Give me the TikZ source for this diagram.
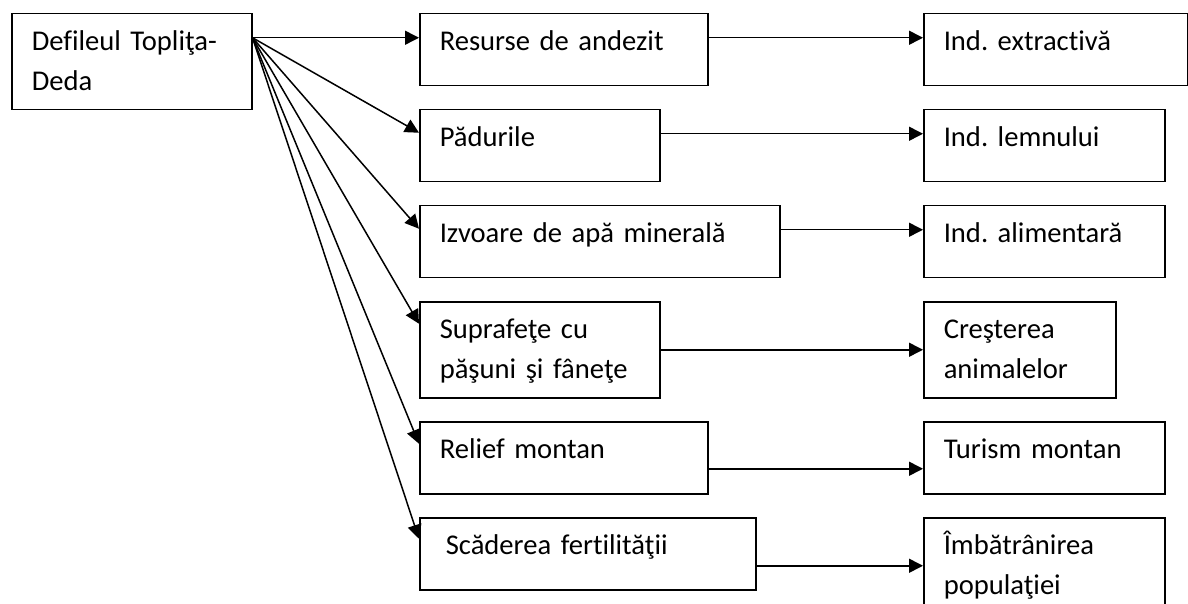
\documentclass[tikz,border=0pt]{standalone}
\usepackage{fontspec}
\setmainfont{Carlito}[Ligatures=NoCommon]
\usetikzlibrary{arrows.meta}
\tikzset{
	box/.style={draw, line width=0.75pt, anchor=north west, inner xsep=10pt, inner ysep=0pt, align=left, text height=18.5pt, text depth=17.5pt, font=\fontsize{14.3pt}{20pt}\selectfont\frenchspacing},
	tallbox/.style={box, text depth=29.5pt},
	arr/.style={line width=0.75pt, -{Triangle[length=7pt,width=7pt]}}
}

\begin{document}
\begin{tikzpicture}[x=0.5pt, y=-0.5pt]
		%%%%% START %%%%%
		
		\useasboundingbox (0,0) rectangle (1188,604);
		\clip (0,0) rectangle (1188,604);
		
		\node[tallbox, text width=100pt] (def) at (11,13) {Defileul Topliţa-\\Deda};
		
		\node[box, text width=124pt] (res) at (419,13) {Resurse de andezit};
		\node[box, text width=100pt] (pad) at (419,109) {Pădurile};
		\node[box, text width=160pt] (izv) at (419,205) {Izvoare de apă minerală};
		\node[tallbox, text width=100pt] (sup) at (419,301) {Suprafeţe cu\\păşuni şi fâneţe};
		\node[box, text width=124pt] (rel) at (419,421) {Relief montan};
		\node[box, text width=148pt] (scad) at (419,517) {\hspace{3pt}Scăderea fertilităţii};
		
		\node[box, text width=112pt] (extr) at (923,13) {Ind. extractivă};
		\node[box, text width=100.5pt] (lemn) at (923,109) {Ind. lemnului};
		\node[box, text width=100.5pt] (alim) at (923,205) {Ind. alimentară};
		\node[tallbox, text width=76pt] (cres) at (923,301) {Creşterea\\animalelor};
		\node[box, text width=100.5pt] (tur) at (923,421) {Turism montan};
		\node[tallbox, text width=100.5pt] (imb) at (923,517) {Îmbătrânirea\\populaţiei};
		
		\draw[arr] ([yshift=12pt]def.east) -- ([yshift=6pt]res.west);
		\draw[arr] ([yshift=12pt]def.east) -- ([yshift=6.5pt]pad.west);
		\draw[arr] ([yshift=12pt]def.east) -- ([yshift=6.5pt]izv.west);
		\draw[arr] ([yshift=12pt]def.east) -- ([yshift=13pt]sup.west);
		\draw[arr] ([yshift=12pt]def.east) -- ([yshift=7pt]rel.west);
		\draw[arr] ([yshift=12pt]def.east) -- ([yshift=7.5pt]scad.west);
		
		\draw[arr] ([yshift=6pt]res.east) -- ([yshift=6pt]res.east -| extr.west);
		\draw[arr] ([yshift=6pt]pad.east) -- ([yshift=6pt]pad.east -| lemn.west);
		\draw[arr] ([yshift=6pt]izv.east) -- ([yshift=6pt]izv.east -| alim.west);
		\draw[arr] (sup.east) -- (sup.east -| cres.west);
		\draw[arr] ([yshift=-5.5pt]rel.east) -- ([yshift=-5.5pt]rel.east -| tur.west);
		\draw[arr] ([yshift=-6pt]scad.east) -- ([yshift=-6pt]scad.east -| imb.west);
		
		%%%%% END %%%%%
	\end{tikzpicture}
\end{document}
